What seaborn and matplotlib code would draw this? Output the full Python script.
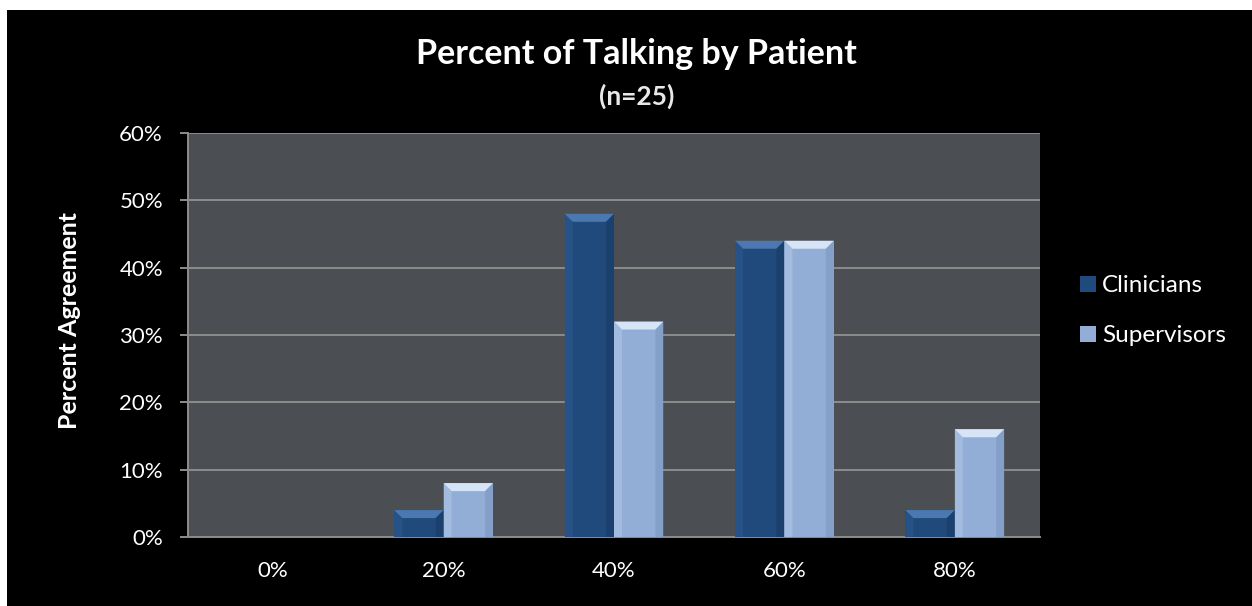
import numpy as np
import pandas as pd
import matplotlib
matplotlib.use("Agg")
import matplotlib.pyplot as plt
from matplotlib.patches import Rectangle, Polygon
from matplotlib.ticker import PercentFormatter
import seaborn as sns

# Data
categories = ["0%", "20%", "40%", "60%", "80%"]
clinicians = [0, 4, 48, 44, 4]
supervisors = [0, 8, 32, 44, 16]
series_names = ["Clinicians", "Supervisors"]

df = pd.DataFrame({
    "rating": categories * 2,
    "pct": clinicians + supervisors,
    "group": [series_names[0]] * len(categories) + [series_names[1]] * len(categories),
})

sns.set_theme(style="dark")
plt.rcParams["font.family"] = ["Lato", "DejaVu Sans"]

W, H = 1252, 606
fig = plt.figure(figsize=(W / 100, H / 100), dpi=100, facecolor="white")
# black slide background with a thin white strip at top and left
fig.patches.append(Rectangle((7 / W, 0), 1 - 7 / W, 1 - 10 / H,
                             transform=fig.transFigure, facecolor="black",
                             edgecolor="none", zorder=-10))

ax = fig.add_axes([188 / W, 1 - 537 / H, (1040 - 188) / W, (537 - 133) / H])
ax.set_facecolor("#4b4f54")

dark_blue = "#214a7c"
light_blue = "#93aed6"
sns.barplot(data=df, x="rating", y="pct", hue="group", order=categories,
            hue_order=series_names, palette=[dark_blue, light_blue],
            width=0.58, saturation=1, dodge=True, ax=ax, linewidth=0,
            legend=True, zorder=3)

ax.set_xlim(-0.5, len(categories) - 0.5)
ax.set_ylim(0, 60)
ax.set_yticks(np.arange(0, 61, 10))
ax.yaxis.set_major_formatter(PercentFormatter(decimals=0))
ax.grid(axis="y", color="#8c8c8c", linewidth=1.4, zorder=0)
ax.grid(axis="x", visible=False)
ax.set_axisbelow(True)

grid_col = "#8c8c8c"
for side in ["left", "bottom"]:
    ax.spines[side].set_visible(True)
    ax.spines[side].set_color(grid_col)
    ax.spines[side].set_linewidth(1.4)
for side in ["top", "right"]:
    ax.spines[side].set_visible(False)

# category labels at centers, tick marks at the boundaries
ax.set_xticks(np.arange(len(categories)))
ax.set_xticklabels(categories)
ax.set_xticks(np.arange(-0.5, len(categories) + 0.5, 1.0), minor=True)
ax.tick_params(axis="x", which="major", length=0, pad=17,
               labelsize=16, labelcolor="white")
ax.tick_params(axis="x", which="minor", length=6, width=1.4,
               color=grid_col, direction="out")
ax.tick_params(axis="y", length=6, width=1.4, color=grid_col,
               labelsize=16, labelcolor="white", pad=12, left=True)
ax.set_xlabel("")
ax.set_ylabel("Percent Agreement", color="white", fontsize=18,
              fontweight="bold")
ax.yaxis.set_label_coords(-0.126, 0.535)

# bevel shading on each bar
px_per_unit_y = (537 - 133) / 60.0
px_per_unit_x = (1040 - 188) / len(categories)
by = 8 / px_per_unit_y
bx = 8 / px_per_unit_x
shades = {
    dark_blue: ("#4b78b0", "#2d5a92", "#173a64"),
    light_blue: ("#d6e4f8", "#b0c6e8", "#7d97c0"),
}
for bar in list(ax.patches):
    h = bar.get_height()
    if not np.isfinite(h) or h <= 0:
        continue
    col = matplotlib.colors.to_hex(bar.get_facecolor())
    top_c, left_c, right_c = shades.get(col, (col, col, col))
    x0, w = bar.get_x(), bar.get_width()
    y1 = bar.get_y() + h
    b_y = min(by, h / 2)
    ax.add_patch(Polygon([(x0, y1), (x0 + w, y1), (x0 + w - bx, y1 - b_y),
                          (x0 + bx, y1 - b_y)], closed=True,
                         facecolor=top_c, edgecolor="none", zorder=4))
    ax.add_patch(Polygon([(x0, y1), (x0 + bx, y1 - b_y), (x0 + bx, 0),
                          (x0, 0)], closed=True, facecolor=left_c,
                         edgecolor="none", zorder=4, alpha=0.55))
    ax.add_patch(Polygon([(x0 + w, y1), (x0 + w - bx, y1 - b_y),
                          (x0 + w - bx, 0), (x0 + w, 0)], closed=True,
                         facecolor=right_c, edgecolor="none", zorder=4,
                         alpha=0.6))

# legend
leg = ax.legend(loc="center left", bbox_to_anchor=(1.036, 0.56),
                frameon=False, fontsize=17.5, labelcolor="white",
                handlelength=0.65, handleheight=0.65, handletextpad=0.25,
                labelspacing=1.2, borderaxespad=0)

# titles
fig.text(0.5085, 1 - 54 / H, "Percent of Talking by Patient", ha="center",
         va="center", color="white", fontsize=24.5, fontweight="bold")
fig.text(0.5085, 1 - 96 / H, "(n=25)", ha="center", va="center",
         color="#e8e8e8", fontsize=19, fontweight="bold")

fig.savefig("out.png", dpi=100, facecolor=fig.get_facecolor())
